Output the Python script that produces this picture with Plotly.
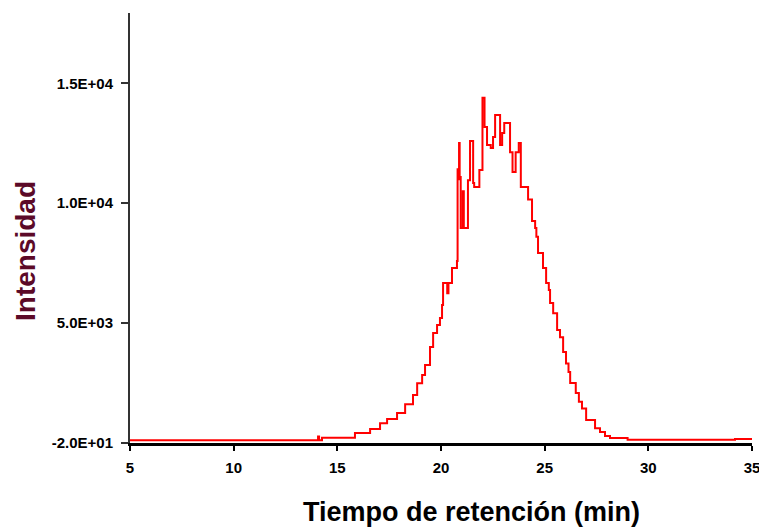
import plotly.graph_objects as go

# Retention time (min) and intensity
time_min = [5.0, 14.05, 14.07, 14.12, 14.26, 15.85, 16.58, 17.06, 17.40, 17.88, 18.27,
            18.65, 18.85, 19.09, 19.23, 19.47, 19.62, 19.81, 19.95, 20.05, 20.10, 20.30,
            20.36, 20.53, 20.77, 20.80, 20.84, 20.87, 20.90, 20.95, 21.05, 21.10, 21.30,
            21.40, 21.55, 21.60, 21.85, 22.00, 22.10, 22.22, 22.40, 22.51, 22.61, 22.85,
            22.95, 23.05, 23.33, 23.45, 23.60, 23.75, 23.85, 24.20, 24.39, 24.54, 24.60,
            24.68, 24.92, 25.07, 25.20, 25.26, 25.41, 25.60, 25.74, 25.89, 26.03, 26.15,
            26.23, 26.50, 26.65, 26.80, 27.00, 27.43, 27.67, 27.91, 28.15, 29.00, 34.18,
            35.0]
intensity = [100, 100, 250, 100, 200, 400, 560, 800, 980, 1230, 1600,
             1980, 2480, 2820, 3240, 3990, 4570, 4910, 5200, 5740, 6660, 6240,
             6660, 7290, 7580, 11420, 11000, 12510, 11090, 8960, 10500, 8960, 10960,
             12590, 10840, 10670, 11380, 14400, 13180, 12430, 12300, 12760, 13680, 12430,
             12930, 13350, 12130, 11300, 12130, 12510, 10670, 10150, 9250, 8960, 8600,
             7920, 7290, 6660, 6370, 5830, 5400, 4700, 4400, 3780, 3300, 2950,
             2485, 2070, 1700, 1420, 940, 600, 440, 270, 190, 120, 150,
             130]

x_ticks = [5, 10, 15, 20, 25, 30, 35]
y_ticks = [-20, 5000, 10000, 15000]
y_tick_text = ["-2.0E+01", "5.0E+03", "1.0E+04", "1.5E+04"]

fig = go.Figure()
fig.add_trace(go.Scatter(
    x=time_min, y=intensity, mode="lines",
    line=dict(color="#ff0000", width=2, shape="hv"),
    showlegend=False, hoverinfo="skip"))

tickfont = dict(family="Liberation Sans, Arial, sans-serif", size=15, color="black", weight="bold")

fig.update_layout(
    width=759, height=529,
    margin=dict(l=130, r=7, t=13, b=86, autoexpand=False),
    paper_bgcolor="white", plot_bgcolor="white",
    xaxis=dict(range=[5, 35], tickvals=x_ticks, ticktext=[str(v) for v in x_ticks],
               showgrid=False, zeroline=False, showline=True, linecolor="black",
               linewidth=3, ticks="outside", ticklen=5, tickwidth=1.5,
               tickcolor="black", tickfont=tickfont, ticklabelstandoff=4,
               ticklabeloverflow="allow", automargin=False),
    yaxis=dict(range=[-20, 17942], tickvals=y_ticks, ticktext=y_tick_text,
               showgrid=False, zeroline=False, showline=True, linecolor="#333333",
               linewidth=2, ticks="outside", ticklen=7, tickwidth=1.5,
               tickcolor="#333333", tickfont=tickfont, ticklabelstandoff=5,
               automargin=False),
)

pw = 759 - 130 - 7
ph = 529 - 13 - 86
fig.add_annotation(text="<b>Tiempo de retención (min)</b>",
                   x=(471 - 130) / pw, y=(443 - 512) / ph, xref="paper", yref="paper",
                   xanchor="center", yanchor="middle", showarrow=False,
                   font=dict(family="Liberation Sans, Arial, sans-serif", size=27, color="black"))
fig.add_annotation(text="<b>Intensidad</b>", textangle=-90,
                   x=(25 - 130) / pw, y=(443 - 251) / ph, xref="paper", yref="paper",
                   xanchor="center", yanchor="middle", showarrow=False,
                   font=dict(family="Liberation Sans, Arial, sans-serif", size=28, color="#5c0a28"))

fig.write_html("out.html")
